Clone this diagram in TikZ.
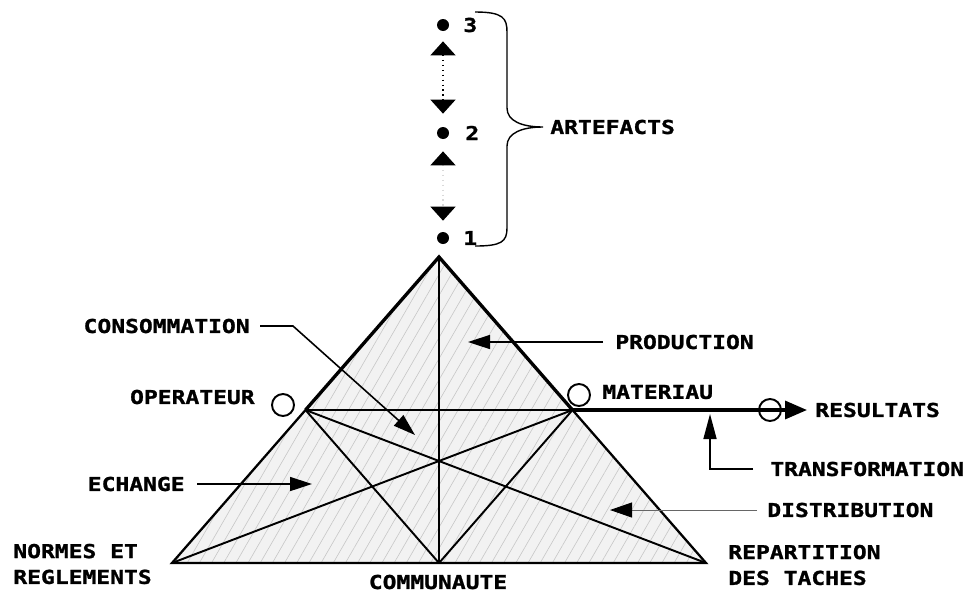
\documentclass[tikz,border=0pt]{standalone}
\usepackage{fontspec}
\usepackage{tikz}
\usetikzlibrary{arrows.meta,positioning,calc,patterns.meta}
\newfontfamily\diagfont[FakeStretch=1.2,FakeBold=1.2]{DejaVu Sans Mono}

\begin{document}
\begin{tikzpicture}[
  x=0.02cm, y=-0.02cm,
  tag/.style={
    font=\diagfont\bfseries\fontsize{10.9}{14.7}\selectfont,
    inner sep=0pt
  },
  ring/.style={circle,draw,line width=1.1pt,minimum size=4.4mm,inner sep=0pt},
  dot/.style={circle,fill,inner sep=0pt,minimum size=2.4mm},
  rim/.style={line width=1.9pt,line join=miter},
  side/.style={line width=1.3pt},
  spoke/.style={line width=1.1pt},
  pointer/.style={-{Triangle[length=4.4mm,width=2.8mm]},line width=0.9pt},
  faint/.style={-{Triangle[length=4.4mm,width=3mm,black]},line width=0.5pt,draw=black!60},
  outflow/.style={-{Triangle[length=4.4mm,width=3.6mm]},line width=1.9pt},
  artlink/.style={{Triangle[length=2.8mm,width=5mm,black]}-{Triangle[length=2.8mm,width=5mm,black]},dotted,line width=0.8pt},
  brace/.style={line width=0.8pt}
]
\useasboundingbox (0,0) rectangle (969,592);

\coordinate (apex) at (439,257);
\coordinate (rules) at (172,563);
\coordinate (tasks) at (706,563);
\coordinate (community) at (439,563);
\coordinate (operator) at (305.5,410);
\coordinate (material) at (572.5,410);

\fill[black!5] (rules) -- (apex) -- (tasks) -- cycle;
\fill[pattern={Lines[angle=60,distance=6pt,line width=0.35pt]},pattern color=black!22] (rules) -- (apex) -- (tasks) -- cycle;

\draw[spoke,line width=0.8pt] (apex) -- (community);
\draw[spoke] (operator) -- (material);
\draw[spoke] (operator) -- (tasks);
\draw[spoke] (material) -- (rules);
\draw[spoke] (operator) -- (community);
\draw[spoke] (material) -- (community);
\draw[side] (operator) -- (rules) -- (tasks) -- (material);
\draw[rim] (operator) -- (apex) -- (material);

\node[dot] (dot3) at (443,25) {};
\node[dot] (dot2) at (443,133) {};
\node[dot] (dot1) at (443,238) {};
\node[tag,anchor=west] (num3) at (463,25) {3};
\node[tag,anchor=west] (num2) at (465,133) {2};
\node[tag,anchor=west] (num1) at (463,238) {1};
\draw[artlink,shorten <=2mm,shorten >=2.6mm] (dot3) -- (dot2);
\draw[artlink,draw=black!15,shorten <=2.4mm,shorten >=2.2mm] (dot2) -- (dot1);

\draw[brace] (475,12) .. controls (503,12) and (507,18) .. (507,32) -- (507,108)
  .. controls (507,121) and (522,127) .. (543,127)
  .. controls (522,127) and (507,133) .. (507,146) -- (507,228)
  .. controls (507,242) and (501,246) .. (475,246);
\node[tag,anchor=west] (artefacts) at (550,127) {ARTEFACTS};

\node[ring] (opring) at (283,405) {};
\node[ring] (matring) at (579,395) {};
\node[tag,anchor=east] (operateur) at (255,397) {OPERATEUR};
\node[tag,anchor=west] (materiau) at (602,392) {MATERIAU};

\node[tag,anchor=west] (resultats) at (815,410) {RESULTATS};
\draw[outflow,shorten >=1.6mm] (material) -- (resultats.west);
\node[ring] (resring) at (770,410) {};

\node[tag,anchor=west] (transformation) at (770,469) {TRANSFORMATION};
\coordinate (xfertip) at (710,414);
\draw[pointer,shorten <=3.4mm,-{Triangle[length=5mm,width=2.6mm]}] (transformation.west) -| (xfertip);

\node[tag,anchor=west] (production) at (615,342) {PRODUCTION};
\coordinate (prodtip) at (468,342);
\draw[pointer,shorten <=2.4mm] (production) -- (prodtip);

\node[tag,anchor=east] (consommation) at (250,326) {CONSOMMATION};
\coordinate (constip) at (415,435);
\draw[pointer,shorten <=2mm] (consommation.east) -- ++(43,0) -- (constip);

\node[tag,anchor=east] (echange) at (185,484) {ECHANGE};
\coordinate (echtip) at (312,484);
\draw[pointer,shorten <=2.4mm] (echange) -- (echtip);

\node[tag,anchor=west] (distribution) at (767,510) {DISTRIBUTION};
\coordinate (disttip) at (610,510);
\draw[faint,shorten <=2mm] (distribution) -- (disttip);

\node[tag,anchor=west,align=left] (normes) at (13,564) {NORMES ET\\REGLEMENTS};
\node[tag,anchor=west,align=left] (repartition) at (728,565) {REPARTITION\\DES TACHES};
\node[tag] (communaute) at (438,582) {COMMUNAUTE};
\end{tikzpicture}
\end{document}
